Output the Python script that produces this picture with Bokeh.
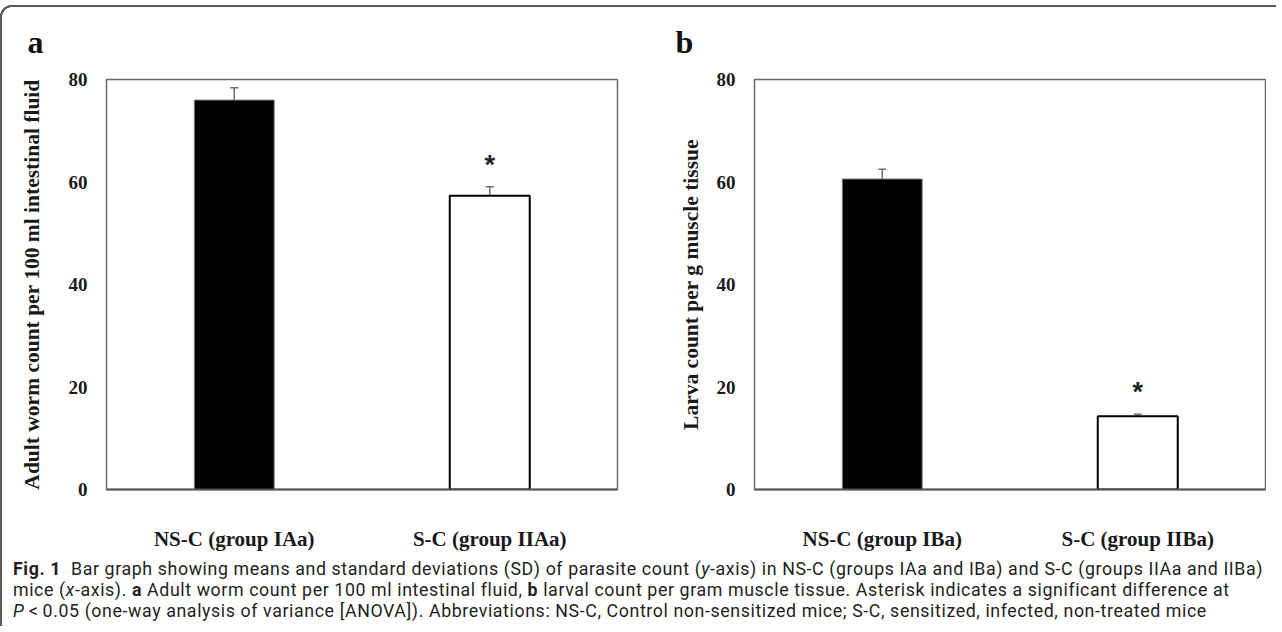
from bokeh.plotting import figure
from bokeh.models import (ColumnDataSource, FactorRange, Range1d, FixedTicker,
                          Whisker, TeeHead, Div)
from bokeh.layouts import row, column
from bokeh.core.properties import value
from bokeh.embed import file_html
from bokeh.resources import INLINE

# ---------------- data ----------------
categories_a = ["NS-C (group IAa)", "S-C (group IIAa)"]
means_a = [76.0, 57.3]
sd_a = [2.4, 1.75]

categories_b = ["NS-C (group IBa)", "S-C (group IIBa)"]
means_b = [60.6, 14.3]
sd_b = [1.9, 0.4]

significance = ["", "*"]
bar_fills = ["black", "white"]
bar_lines = ["#8c8c8c", "black"]
bar_line_widths = [1, 2]
y_ticks = [0, 20, 40, 60, 80]

ylabel_a = "Adult worm count per 100 ml intestinal fluid"
ylabel_b = "Larva count per g muscle tissue"

SERIF = "Liberation Serif"
FRAME_COL = "#6a6a6a"
ERR_COL = "#707070"


def make_panel(cats, means, sds, ylabel, letter, width, min_left, min_right,
               label_standoff):
    src = ColumnDataSource(dict(
        x=cats, top=means,
        upper=[m + s for m, s in zip(means, sds)],
        lower=[m - s for m, s in zip(means, sds)],
        fill=bar_fills, line=bar_lines, lw=bar_line_widths,
        star=significance,
    ))
    p = figure(x_range=FactorRange(*cats, range_padding=0), y_range=Range1d(0, 80),
               width=width, height=553, output_backend="svg", toolbar_location=None,
               min_border_left=min_left, min_border_right=min_right,
               min_border_top=79, min_border_bottom=61,
               border_fill_color=None, background_fill_color="white",
               outline_line_color=FRAME_COL, outline_line_width=1.5)
    p.vbar(x="x", top="top", width=0.313, source=src, fill_color="fill",
           line_color="line", line_width="lw")
    w = Whisker(base="x", upper="upper", lower="lower", source=src,
                line_color=ERR_COL, line_width=1.5,
                upper_head=TeeHead(size=8, line_color=ERR_COL, line_width=1.5),
                lower_head=TeeHead(size=8, line_color=ERR_COL, line_width=1.5))
    p.add_layout(w)
    p.text(x="x", y="upper", text="star", source=src,
           text_font=value("Liberation Sans"), text_font_style="bold",
           text_font_size="27px", text_align="center", text_baseline="middle",
           y_offset=-22, text_color="#222222")

    p.xgrid.visible = False
    p.ygrid.visible = False

    ya = p.yaxis[0]
    ya.ticker = FixedTicker(ticks=y_ticks)
    ya.major_tick_in = 0
    ya.major_tick_out = 0
    ya.minor_tick_in = 0
    ya.minor_tick_out = 0
    ya.axis_line_color = None
    ya.major_label_text_font = SERIF
    ya.major_label_text_font_style = "bold"
    ya.major_label_text_font_size = "19px"
    ya.major_label_text_color = "#1a1a1a"
    ya.major_label_standoff = 19
    ya.axis_label = ylabel
    ya.axis_label_text_font = SERIF
    ya.axis_label_text_font_style = "bold"
    ya.axis_label_text_font_size = "21.5px"
    ya.axis_label_text_color = "#1a1a1a"
    ya.axis_label_standoff = label_standoff

    xa = p.xaxis[0]
    xa.major_tick_in = 0
    xa.major_tick_out = 0
    xa.axis_line_color = "#555555"
    xa.axis_line_width = 2
    xa.major_label_text_font = SERIF
    xa.major_label_text_font_style = "bold"
    xa.major_label_text_font_size = "21px"
    xa.major_label_text_color = "#1a1a1a"
    xa.major_label_standoff = 37

    p.title.text = letter
    p.title.text_font = SERIF
    p.title.text_font_style = "bold"
    p.title.text_font_size = "32px"
    p.title.text_color = "#111111"
    p.title.align = "left"
    p.title.offset = -79
    p.title.standoff = 39
    return p


pa = make_panel(categories_a, means_a, sd_a, ylabel_a, "a", 636, 106, 19, 22)
pb = make_panel(categories_b, means_b, sd_b, ylabel_b, "b", 630, 118, 1, 11)

caption_html = (
    '<div style="line-height:21px; letter-spacing:0.6px">'
    "<b>Fig.&nbsp;1</b>&nbsp;&nbsp;Bar graph showing means and standard deviations (SD) of parasite "
    "count (<i>y</i>-axis) in NS-C (groups IAa and IBa) and S-C (groups IIAa and IIBa)<br>"
    "mice (<i>x</i>-axis). <b>a</b> Adult worm count per 100 ml intestinal fluid, <b>b</b> larval "
    "count per gram muscle tissue. Asterisk indicates a significant difference at<br>"
    "<i>P</i>&thinsp;&lt;&thinsp;0.05 (one-way analysis of variance [ANOVA]). Abbreviations: NS-C, "
    "Control non-sensitized mice; S-C, sensitized, infected, non-treated mice"
    "</div>"
)
caption = Div(text=caption_html, width=1266, height=63,
              styles={"font-family": "Roboto", "font-size": "17.8px",
                      "color": "#231f20", "padding-left": "8px",
                      "white-space": "nowrap", "overflow": "hidden"})

LINE = "#5a5a5a"
frame_bg = (
    f"linear-gradient({LINE}, {LINE}) 12px 5px / calc(100% - 12px) 2px no-repeat, "
    f"linear-gradient({LINE}, {LINE}) 0px 17px / 2px calc(100% - 17px) no-repeat, "
    f"radial-gradient(circle at 12px 12px, rgba(90,90,90,0) 9.6px, {LINE} 10.1px, "
    f"{LINE} 11.9px, rgba(90,90,90,0) 12.4px) 0px 5px / 12px 12px no-repeat"
)

layout = column(row(pa, pb), caption, styles={"background": frame_bg})

open("out.html", "w").write(file_html(layout, INLINE))
